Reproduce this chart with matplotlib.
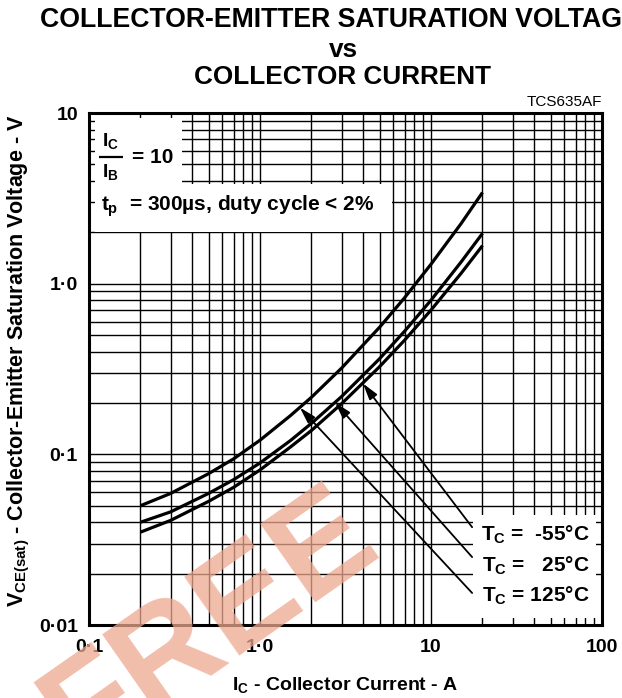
import numpy as np
import matplotlib
matplotlib.use("Agg")
from matplotlib import pyplot as plt
from matplotlib.patches import Rectangle

plt.rcParams['font.family'] = ['Liberation Sans', 'DejaVu Sans']
plt.rcParams['mathtext.fontset'] = 'custom'
plt.rcParams['mathtext.rm'] = 'Liberation Sans:bold'
plt.rcParams['mathtext.it'] = 'Liberation Sans:bold'
plt.rcParams['mathtext.bf'] = 'Liberation Sans:bold'

# collector current (A)
ic = [0.2, 0.3, 0.5, 0.7, 1.0, 1.5, 2.0, 3.0, 5.0, 7.0, 10.0, 15.0, 20.0]
# VCE(sat) (V)
vce_upper = [0.050, 0.059, 0.077, 0.094, 0.121, 0.168, 0.216, 0.320, 0.555, 0.826, 1.30, 2.25, 3.42]
vce_mid = [0.040, 0.046, 0.059, 0.071, 0.089, 0.120, 0.152, 0.218, 0.363, 0.526, 0.80, 1.34, 1.97]
vce_lower = [0.035, 0.041, 0.053, 0.064, 0.081, 0.110, 0.138, 0.198, 0.326, 0.466, 0.70, 1.15, 1.67]

temp_labels = ['T$_\\mathregular{C}$ =  -55°C', 'T$_\\mathregular{C}$ =   25°C', 'T$_\\mathregular{C}$ = 125°C']
# arrow tips (on curves) and tails (at the labels), data coords
arrow_tips = [(4.0, 0.26), (2.75, 0.201), (1.71, 0.188)]
arrow_tails = [(17.4, 0.0374), (17.4, 0.025), (17.4, 0.0154)]

xticks = [0.1, 1.0, 10, 100]
xticklabels = ['0·1', '1·0', '10', '100']
yticks = [0.01, 0.1, 1.0, 10]
yticklabels = ['0·01', '0·1', '1·0', '10']

fig = plt.figure(figsize=(6.22, 6.98), dpi=100)
ax = fig.add_axes([89/622, 1 - 625/698, 513/622, 512/698])
ax.set_xscale('log')
ax.set_yscale('log')
ax.set_xlim(0.1, 100)
ax.set_ylim(0.01, 10)

ax.grid(True, which='both', color='black', lw=1.0, zorder=0)
for s in ax.spines.values():
    s.set_linewidth(2.2)
    s.set_zorder(6)
ax.set_xticks(xticks)
ax.set_xticklabels(xticklabels, fontweight='bold')
ax.set_yticks(yticks)
ax.set_yticklabels(yticklabels, fontweight='bold')
ax.tick_params(which='both', length=0, labelsize=14)
ax.tick_params(axis='x', which='major', pad=10)
ax.tick_params(axis='y', which='major', pad=8)

for v in [vce_upper, vce_mid, vce_lower]:
    ax.plot(ic, v, color='black', lw=2.3, zorder=3, solid_capstyle='butt')

# white label boxes, inset a little so the grid shows as ticks at the frame
for (x0, y0, w, h) in [(0.011, 0.862, 0.170, 0.128), (0.011, 0.768, 0.579, 0.094),
                       (0.749, 0.014, 0.240, 0.201)]:
    ax.add_patch(Rectangle((x0, y0), w, h, transform=ax.transAxes,
                           facecolor='white', edgecolor='none', zorder=4))

# IC / IB = 10
ax.text(0.041, 0.946, '$I_C$', transform=ax.transAxes, ha='center', va='center',
        fontsize=14, zorder=5)
ax.text(0.041, 0.884, '$I_B$', transform=ax.transAxes, ha='center', va='center',
        fontsize=14, zorder=5)
ax.plot([0.019, 0.066], [0.914, 0.914], transform=ax.transAxes, color='black',
        lw=1.6, zorder=5, solid_capstyle='butt')
ax.text(0.084, 0.913, '= 10', transform=ax.transAxes, ha='left', va='center',
        fontsize=15, fontweight='bold', zorder=5)
ax.text(0.024, 0.818, r'$t_p$  = 300µs, duty cycle < 2%', transform=ax.transAxes,
        fontsize=15, fontweight='bold', va='center', zorder=5)
for i, lab in enumerate(temp_labels):
    ax.text(0.975, 0.176 - i * 0.060, lab, transform=ax.transAxes, ha='right',
            va='center', fontsize=15, fontweight='bold', zorder=5)

for tip, tail in zip(arrow_tips, arrow_tails):
    ax.annotate('', xy=tip, xytext=tail,
                arrowprops=dict(arrowstyle='-|>,head_length=0.7,head_width=0.2',
                                color='black', lw=1.3,
                                mutation_scale=14, shrinkA=0, shrinkB=0),
                zorder=5)

ax.set_xlabel(r'$I_C$ - Collector Current - A', fontsize=14, fontweight='bold')
ax.xaxis.set_label_coords(0.5, -0.098)
ax.set_ylabel(r'$V_{CE(sat)}$ - Collector-Emitter Saturation Voltage - V',
              fontsize=15.5, fontweight='bold')
ax.yaxis.set_label_coords(-0.112, 0.515)

# first title line runs off the right edge, as in the datasheet
fig.text(340/622, 1 - 20/698, 'COLLECTOR-EMITTER SATURATION VOLTAGE', ha='center',
         va='center', fontsize=19.2, fontweight='bold')
fig.text(343/622, 1 - 50/698, 'vs', ha='center', va='center', fontsize=18.8, fontweight='bold')
fig.text(343/622, 1 - 77/698, 'COLLECTOR CURRENT', ha='center', va='center',
         fontsize=18.8, fontweight='bold')
ax.text(1.0, 1.008, 'TCS635AF', transform=ax.transAxes, ha='right', va='bottom', fontsize=11)

# watermark
fig.text(210/622, 1 - 625/698, 'FREE', ha='center', va='center', rotation=35,
         fontsize=100, fontweight='bold', color='#eea890', alpha=0.75, zorder=10)

fig.savefig('out.png', dpi=100)
